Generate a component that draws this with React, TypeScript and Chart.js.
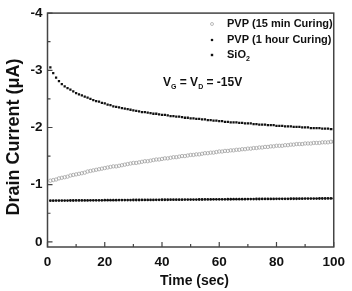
import React, { useEffect, useRef } from "react";
import { Chart, registerables } from "chart.js";

Chart.register(...registerables);

// Sampling times (s)
const timeSec = [
  1, 2, 3, 4, 5, 6, 7, 8, 9, 10, 11, 12, 13, 14, 15, 16, 17, 18, 19, 20,
  21, 22, 23, 24, 25, 26, 27, 28, 29, 30, 31, 32, 33, 34, 35, 36, 37, 38, 39, 40,
  41, 42, 43, 44, 45, 46, 47, 48, 49, 50, 51, 52, 53, 54, 55, 56, 57, 58, 59, 60,
  61, 62, 63, 64, 65, 66, 67, 68, 69, 70, 71, 72, 73, 74, 75, 76, 77, 78, 79, 80,
  81, 82, 83, 84, 85, 86, 87, 88, 89, 90, 91, 92, 93, 94, 95, 96, 97, 98, 99, 100,
];

// Drain current (µA), PVP cured 15 min
const pvp15min = [
  -1.07, -1.08, -1.09, -1.11, -1.12, -1.13, -1.14, -1.16, -1.17, -1.18,
  -1.19, -1.2, -1.21, -1.23, -1.24, -1.25, -1.26, -1.27, -1.28, -1.29,
  -1.3, -1.31, -1.32, -1.32, -1.33, -1.34, -1.35, -1.36, -1.37, -1.38,
  -1.38, -1.39, -1.4, -1.41, -1.41, -1.42, -1.43, -1.44, -1.44, -1.45,
  -1.46, -1.46, -1.47, -1.48, -1.48, -1.49, -1.5, -1.5, -1.51, -1.52,
  -1.52, -1.53, -1.53, -1.54, -1.55, -1.55, -1.56, -1.56, -1.57, -1.58,
  -1.58, -1.59, -1.59, -1.6, -1.6, -1.61, -1.61, -1.62, -1.62, -1.63,
  -1.63, -1.64, -1.64, -1.65, -1.65, -1.66, -1.66, -1.67, -1.67, -1.68,
  -1.68, -1.68, -1.69, -1.69, -1.7, -1.7, -1.71, -1.71, -1.71, -1.72,
  -1.72, -1.72, -1.73, -1.73, -1.73, -1.74, -1.74, -1.74, -1.75, -1.75,
];

// Drain current (µA), PVP cured 1 hour
const pvp1hour = [
  -0.72, -0.72, -0.721, -0.721, -0.722, -0.722, -0.722, -0.723, -0.723, -0.724,
  -0.724, -0.724, -0.725, -0.725, -0.726, -0.726, -0.726, -0.727, -0.727, -0.728,
  -0.728, -0.728, -0.729, -0.729, -0.73, -0.73, -0.73, -0.731, -0.731, -0.732,
  -0.732, -0.732, -0.733, -0.733, -0.734, -0.734, -0.734, -0.735, -0.735, -0.736,
  -0.736, -0.736, -0.737, -0.737, -0.738, -0.738, -0.738, -0.739, -0.739, -0.74,
  -0.74, -0.74, -0.741, -0.741, -0.742, -0.742, -0.742, -0.743, -0.743, -0.744,
  -0.744, -0.744, -0.745, -0.745, -0.746, -0.746, -0.746, -0.747, -0.747, -0.748,
  -0.748, -0.748, -0.749, -0.749, -0.75, -0.75, -0.75, -0.751, -0.751, -0.752,
  -0.752, -0.752, -0.753, -0.753, -0.754, -0.754, -0.754, -0.755, -0.755, -0.756,
  -0.756, -0.756, -0.757, -0.757, -0.758, -0.758, -0.758, -0.759, -0.759, -0.76,
];

// Drain current (µA), SiO2 dielectric
const sio2 = [
  -3.05, -2.95, -2.87, -2.81, -2.76, -2.72, -2.69, -2.66, -2.63, -2.6,
  -2.58, -2.56, -2.54, -2.52, -2.5, -2.48, -2.46, -2.45, -2.43, -2.42,
  -2.4, -2.39, -2.37, -2.36, -2.35, -2.34, -2.33, -2.32, -2.31, -2.3,
  -2.29, -2.28, -2.27, -2.27, -2.26, -2.25, -2.24, -2.24, -2.23, -2.22,
  -2.22, -2.21, -2.2, -2.2, -2.19, -2.19, -2.18, -2.17, -2.17, -2.16,
  -2.16, -2.15, -2.15, -2.14, -2.14, -2.13, -2.13, -2.12, -2.12, -2.11,
  -2.11, -2.1, -2.1, -2.09, -2.09, -2.09, -2.08, -2.08, -2.07, -2.07,
  -2.07, -2.06, -2.06, -2.05, -2.05, -2.05, -2.04, -2.04, -2.04, -2.03,
  -2.03, -2.03, -2.02, -2.02, -2.02, -2.01, -2.01, -2.01, -2.0, -2.0,
  -2.0, -1.99, -1.99, -1.99, -1.99, -1.98, -1.98, -1.98, -1.97, -1.97,
];

const xMajorTicks = [0, 20, 40, 60, 80, 100];
const xMinorTicks = [10, 30, 50, 70, 90];
const yMajorTicks = [-4, -3, -2, -1, 0];
const yMinorTicks = [-3.5, -2.5, -1.5, -0.5];

const FONT = "Arial, 'Liberation Sans', Helvetica, sans-serif";
const AXIS_COLOR = "#444";

const toPoints = (ys: number[]) => timeSec.map((t, i) => ({ x: t, y: ys[i] }));

// Frame, inward ticks, axis titles, legend and bias annotation
const decorPlugin = {
  id: "decor",
  afterDraw(chart: any) {
    const { ctx, chartArea: a, scales } = chart;
    const xs = scales.x;
    const ys = scales.y;
    ctx.save();
    ctx.strokeStyle = AXIS_COLOR;
    ctx.lineWidth = 1.5;
    ctx.strokeRect(a.left, a.top, a.right - a.left, a.bottom - a.top);

    ctx.lineWidth = 1.2;
    ctx.beginPath();
    for (const v of xMajorTicks) {
      const px = xs.getPixelForValue(v);
      ctx.moveTo(px, a.bottom);
      ctx.lineTo(px, a.bottom - 5);
    }
    for (const v of xMinorTicks) {
      const px = xs.getPixelForValue(v);
      ctx.moveTo(px, a.bottom);
      ctx.lineTo(px, a.bottom - 3);
    }
    for (const v of yMajorTicks) {
      const py = ys.getPixelForValue(v);
      ctx.moveTo(a.left, py);
      ctx.lineTo(a.left + 5, py);
    }
    for (const v of yMinorTicks) {
      const py = ys.getPixelForValue(v);
      ctx.moveTo(a.left, py);
      ctx.lineTo(a.left + 3, py);
    }
    ctx.stroke();

    // Axis titles
    ctx.fillStyle = "#111";
    ctx.textAlign = "center";
    ctx.textBaseline = "middle";
    ctx.font = `bold 14px ${FONT}`;
    ctx.fillText("Time (sec)", 194.5, 281.5);

    ctx.save();
    ctx.translate(14, 137);
    ctx.rotate(-Math.PI / 2);
    ctx.font = `bold 18px ${FONT}`;
    ctx.fillText("Drain Current (\u03BCA)", 0, 0);
    ctx.restore();

    // Legend
    const lx = 212;
    const tx = 227;
    const rows = [24, 40, 55];
    ctx.strokeStyle = "#aaa";
    ctx.lineWidth = 0.8;
    ctx.beginPath();
    ctx.arc(lx, rows[0], 1.5, 0, Math.PI * 2);
    ctx.stroke();
    ctx.fillStyle = "#111";
    ctx.beginPath();
    ctx.arc(lx, rows[1], 1.3, 0, Math.PI * 2);
    ctx.fill();
    ctx.fillRect(lx - 1.2, rows[2] - 1.2, 2.4, 2.4);

    ctx.textAlign = "left";
    ctx.font = `bold 11px ${FONT}`;
    ctx.fillText("PVP (15 min Curing)", tx, rows[0]);
    ctx.fillText("PVP (1 hour Curing)", tx, rows[1]);
    ctx.fillText("SiO", tx, rows[2]);
    const w = ctx.measureText("SiO").width;
    ctx.font = `bold 7px ${FONT}`;
    ctx.fillText("2", tx + w, rows[2] + 4);

    // Bias condition annotation
    const parts: [string, boolean][] = [
      ["V", false],
      ["G", true],
      [" = V", false],
      ["D", true],
      [" = -15V", false],
    ];
    let ax = 163;
    const ay = 83;
    for (const [txt, sub] of parts) {
      ctx.font = sub ? `bold 7px ${FONT}` : `bold 12px ${FONT}`;
      ctx.fillText(txt, ax, sub ? ay + 4 : ay);
      ax += ctx.measureText(txt).width;
    }
    ctx.restore();
  },
};

export default function App() {
  const canvasRef = useRef<HTMLCanvasElement | null>(null);

  useEffect(() => {
    document.body.style.margin = "0";
    const canvas = canvasRef.current;
    if (!canvas) return;
    const chart = new Chart(canvas, {
      type: "scatter",
      data: {
        datasets: [
          {
            label: "PVP (15 min Curing)",
            data: toPoints(pvp15min),
            pointStyle: "circle",
            pointRadius: 1.7,
            borderWidth: 0.7,
            borderColor: "#9a9a9a",
            backgroundColor: "rgba(255,255,255,0)",
          },
          {
            label: "PVP (1 hour Curing)",
            data: toPoints(pvp1hour),
            pointStyle: "circle",
            pointRadius: 1.4,
            borderWidth: 0,
            backgroundColor: "#111",
          },
          {
            label: "SiO2",
            data: toPoints(sio2),
            pointStyle: "rect",
            pointRadius: 1.6,
            borderWidth: 0,
            backgroundColor: "#111",
          },
        ],
      },
      options: {
        animation: false,
        responsive: false,
        events: [],
        layout: { padding: { left: 0, top: 13, right: 11, bottom: 0 } },
        plugins: {
          legend: { display: false },
          tooltip: { enabled: false },
        },
        scales: {
          x: {
            type: "linear",
            min: 0,
            max: 100,
            grid: { display: false, drawTicks: false },
            border: { display: false },
            ticks: {
              stepSize: 20,
              padding: 7,
              color: "#111",
              font: { family: FONT, size: 13.5, weight: "bold" },
            },
            afterFit: (s: any) => {
              s.height = 44;
            },
          },
          y: {
            type: "linear",
            min: -4,
            max: 0.09,
            reverse: true,
            grid: { display: false, drawTicks: false },
            border: { display: false },
            ticks: {
              stepSize: 1,
              includeBounds: false,
              padding: 5,
              color: "#111",
              font: { family: FONT, size: 13.5, weight: "bold" },
            },
            afterFit: (s: any) => {
              s.width = 47.5;
            },
          },
        },
      },
      plugins: [decorPlugin],
    });
    return () => chart.destroy();
  }, []);

  return (
    <div style={{ width: 352, height: 291 }}>
      <canvas ref={canvasRef} width={352} height={291} style={{ display: "block" }} />
    </div>
  );
}
